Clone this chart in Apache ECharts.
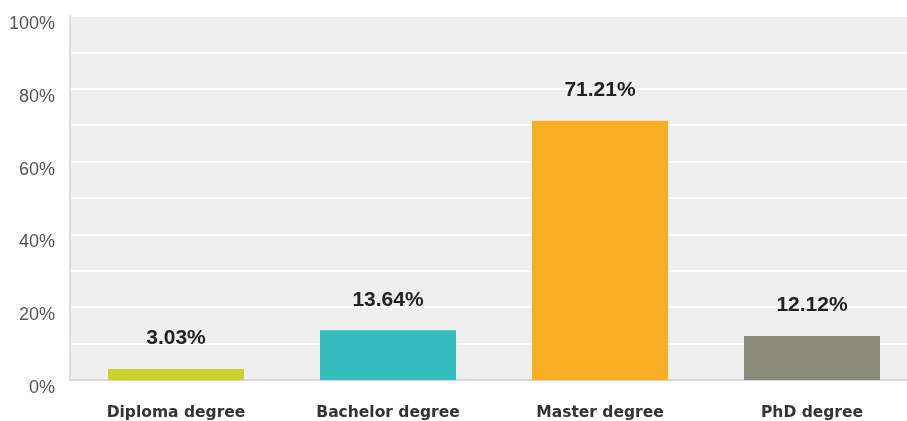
<!DOCTYPE html>
<html>
<head>
<meta charset="utf-8">
<script src="https://cdn.jsdelivr.net/npm/echarts@6/dist/echarts.min.js"></script>
<style>
  html, body { margin: 0; padding: 0; background: #fff; }
  #chart { width: 907px; height: 421px; }
</style>
</head>
<body>
<div id="chart"></div>
<script>
// Education level of respondents (share of answers, %)
const categories = ['Diploma degree', 'Bachelor degree', 'Master degree', 'PhD degree'];
const shares = [3.03, 13.64, 71.21, 12.12];
const barColors = ['#cbd32b', '#34bdbf', '#f7ae20', '#8a8a78'];
const yTicks = [0, 20, 40, 60, 80, 100];

// The category band runs past the right edge of the canvas, so the x axis is a
// numeric slot axis: slot i is centred on value i, and the visible range ends
// part-way through the last slot's band.
const slotIndex = categories.map((_, i) => i);
const xMax = 3.448;

const chart = echarts.init(document.getElementById('chart'));

chart.setOption({
  animation: false,
  grid: { left: 70, right: 0, top: 16, bottom: 40, backgroundColor: '#efefef', show: true, borderWidth: 0 },
  xAxis: {
    type: 'value',
    min: -0.5,
    max: xMax,
    splitLine: { show: false },
    axisTick: { show: false },
    axisLine: { show: true, onZero: false, lineStyle: { color: '#d8d8d8', width: 2 } },
    axisLabel: {
      customValues: slotIndex,
      margin: 25,
      fontFamily: '"DejaVu Sans", sans-serif',
      fontWeight: 'bold',
      fontSize: 15.5,
      color: '#333',
      formatter: v => categories[Math.round(v)] || ''
    }
  },
  yAxis: {
    type: 'value',
    min: 0,
    max: 100,
    interval: 10,
    axisLine: { show: true, onZero: false, lineStyle: { color: '#dcdcdc', width: 2 } },
    axisTick: { show: false },
    splitLine: { show: true, lineStyle: { color: '#ffffff', width: 2 } },
    axisLabel: {
      margin: 15,
      verticalAlign: 'top',
      lineHeight: 16,
      fontFamily: '"Liberation Sans", Arial, sans-serif',
      fontSize: 18,
      color: '#555',
      formatter: v => (yTicks.indexOf(v) >= 0 ? v + '%' : '')
    }
  },
  series: [{
    type: 'bar',
    barWidth: 136,
    data: shares.map((v, i) => ({ value: [slotIndex[i], v], itemStyle: { color: barColors[i] } })),
    label: {
      show: true,
      position: 'top',
      distance: 20,
      fontFamily: '"Liberation Sans", Arial, sans-serif',
      fontWeight: 'bold',
      fontSize: 21,
      color: '#222',
      formatter: p => p.value[1].toFixed(2) + '%'
    }
  }]
});
</script>
</body>
</html>
